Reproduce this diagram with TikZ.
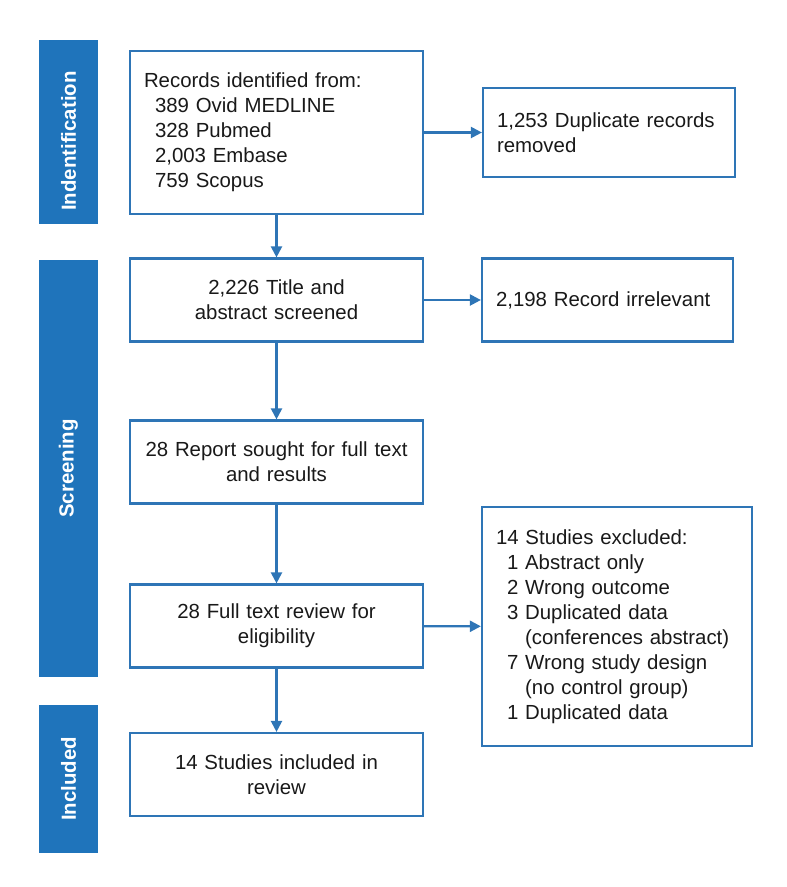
\documentclass[tikz,border=0pt]{standalone}
\usepackage{fontspec}
\setmainfont{Liberation Sans}
\usetikzlibrary{arrows.meta}
\definecolor{barblue}{RGB}{31,116,187}
\definecolor{lineblue}{RGB}{46,117,182}
\definecolor{txt}{RGB}{25,25,25}
\begin{document}
\begin{tikzpicture}[x=1pt,y=-1pt,
  box/.style={draw=lineblue, line width=2.2pt, fill=white, inner xsep=14pt, inner ysep=0pt,
    text=txt, font=\fontsize{20.4}{25}\selectfont, anchor=center},
  bar/.style={fill=barblue, draw=none, inner sep=0pt},
  bartext/.style={text=white, font=\fontsize{20.4}{25}\selectfont\bfseries, rotate=90, inner sep=0pt},
  arr/.style={draw=lineblue, line width=2.2pt, -{Triangle[length=11pt,width=11pt]}}
]
\useasboundingbox (0,0) rectangle (787,887);
% side bars
\node[bar, minimum width=59pt, minimum height=184pt] (b1) at (68.5,132) {};
\node[bartext] (t1) at (68.5,141) {Indentification};
\node[bar, minimum width=59pt, minimum height=417pt] (b2) at (68.5,468.5) {};
\node[bartext] (t2) at (68.5,468.5) {Screening};
\node[bar, minimum width=59pt, minimum height=148pt] (b3) at (68.5,779) {};
\node[bartext] (t3) at (68.5,779) {Included};
% boxes
\node[box, minimum width=293pt, minimum height=163pt, text width=265pt, align=left] (rec) at (276.5,132.5)
  {Records identified from:\\\hspace*{11pt}389 Ovid MEDLINE\\\hspace*{11pt}328 Pubmed\\\hspace*{11pt}2,003 Embase\\\hspace*{11pt}759 Scopus};
\node[box, minimum width=252pt, minimum height=89pt, text width=224pt, align=left] (dup) at (609,132.5)
  {1,253 Duplicate records\\removed};
\node[box, minimum width=293pt, minimum height=83pt, text width=265pt, align=center] (tit) at (276.5,300)
  {2,226 Title and\\abstract screened};
\node[box, minimum width=251pt, minimum height=83pt, text width=223pt, align=left] (irr) at (607.5,300)
  {2,198 Record irrelevant};
\node[box, minimum width=293pt, minimum height=83pt, text width=265pt, align=center] (rep) at (276.5,462)
  {28 Report sought for full text\\and results};
\node[box, minimum width=293pt, minimum height=83pt, text width=265pt, align=center] (ful) at (276.5,626)
  {28 Full text review for\\eligibility};
\node[box, minimum width=270pt, minimum height=239pt, text width=242pt, align=left] (exc) at (617,626.5)
  {14 Studies excluded:\\
   \hspace*{11pt}1 Abstract only\\
   \hspace*{11pt}2 Wrong outcome\\
   \hspace*{11pt}3 Duplicated data\\
   \hspace*{11pt}\phantom{3 }(conferences abstract)\\
   \hspace*{11pt}7 Wrong study design\\
   \hspace*{11pt}\phantom{7 }(no control group)\\
   \hspace*{11pt}1 Duplicated data};
\node[box, minimum width=293pt, minimum height=83pt, text width=265pt, align=center] (inc) at (276.5,774.5)
  {14 Studies included in\\review};
% connectors
\draw[arr] (rec) -- (tit);
\draw[arr] (tit) -- (rep);
\draw[arr] (rep) -- (ful);
\draw[arr] (ful) -- (inc);
\draw[arr] (rec.east |- dup.west) -- (dup.west);
\draw[arr] (tit) -- (irr);
\draw[arr] (ful) -- (exc);
\end{tikzpicture}
\end{document}
